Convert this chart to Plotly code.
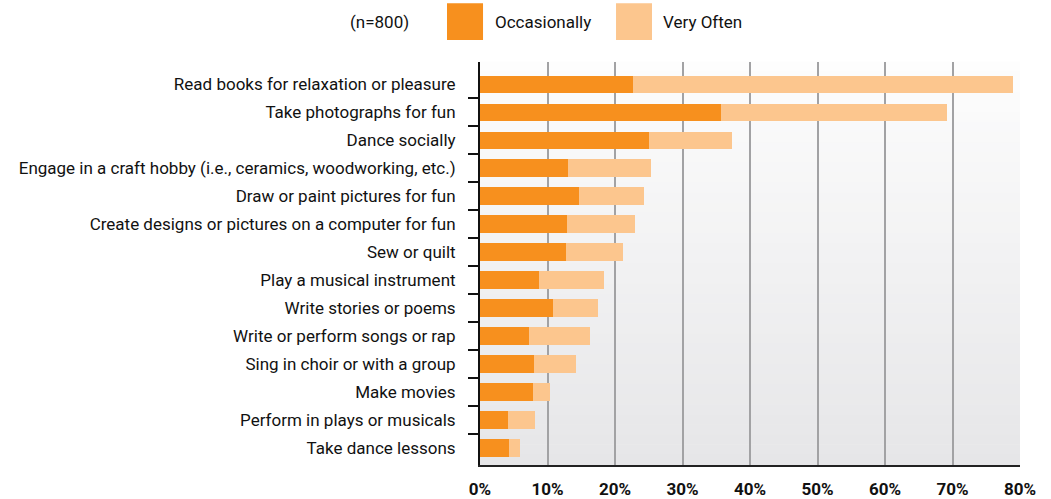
import plotly.graph_objects as go

categories = [
    "Read books for relaxation or pleasure",
    "Take photographs for fun",
    "Dance socially",
    "Engage in a craft hobby (i.e., ceramics, woodworking, etc.)",
    "Draw or paint pictures for fun",
    "Create designs or pictures on a computer for fun",
    "Sew or quilt",
    "Play a musical instrument",
    "Write stories or poems",
    "Write or perform songs or rap",
    "Sing in choir or with a group",
    "Make movies",
    "Perform in plays or musicals",
    "Take dance lessons",
]
occasionally = [22.6, 35.7, 25.0, 13.0, 14.6, 12.9, 12.8, 8.7, 10.8, 7.2, 8.0, 7.8, 4.1, 4.3]
very_often = [56.4, 33.5, 12.3, 12.3, 9.7, 10.1, 8.4, 9.7, 6.7, 9.1, 6.2, 2.6, 4.0, 1.6]
series_names = ["Occasionally", "Very Often"]
series_colors = ["#F7901E", "#FCC68E"]
x_ticks = [0, 10, 20, 30, 40, 50, 60, 70, 80]
sample_note = "(n=800)"

FONT = "Roboto, Liberation Sans, sans-serif"

def f(size, bold=False):
    d = dict(family=FONT, size=size, color="#111111")
    if bold:
        d["weight"] = "bold"
    return d

fig = go.Figure()
for name, vals, col in zip(series_names, [occasionally, very_often], series_colors):
    fig.add_trace(go.Bar(y=categories, x=vals, name=name, orientation="h",
                         marker=dict(color=col, line=dict(width=0)), yaxis="y"))

n = len(categories)
yr = [n - 1 + 0.61, -0.8]

# boundary ticks on an overlay axis
fig.add_trace(go.Scatter(x=[None], y=[None], yaxis="y2", showlegend=False, hoverinfo="skip"))

fig.update_layout(
    width=1051, height=499,
    margin=dict(l=480, r=31, t=62, b=34),
    barmode="stack", bargap=0.37,
    paper_bgcolor="white", plot_bgcolor="#f2f2f2",
    showlegend=False,
    font=f(17),
    xaxis=dict(range=[0, 80], tickvals=x_ticks, ticktext=[f"{v}%" for v in x_ticks],
               showgrid=True, gridcolor="#a2a2a4", gridwidth=2, zeroline=False,
               showline=True, linecolor="#222222", linewidth=2, ticks="",
               tickfont=f(17, True), automargin=False,
               ticklabelstandoff=8, fixedrange=True),
    yaxis=dict(range=yr, type="category", showgrid=False, zeroline=False,
               showline=True, linecolor="#111111", linewidth=2, ticks="",
               automargin=False, ticklabelstandoff=19, tickfont=f(17)),
    yaxis2=dict(range=yr, overlaying="y", anchor="x", side="left", automargin=False,
                tickvals=[i + 0.5 for i in range(n - 1)], ticktext=[""] * (n - 1),
                ticks="outside", ticklen=11, tickwidth=2, tickcolor="#111111",
                showgrid=False, zeroline=False, showline=False, showticklabels=True),
)

# vertical gradient background
steps = 40
shapes = []
for i in range(steps):
    t = i / (steps - 1)
    top = (253, 253, 253)
    bot = (230, 230, 232)
    c = tuple(round(top[k] + (bot[k] - top[k]) * t) for k in range(3))
    shapes.append(dict(type="rect", xref="paper", yref="paper", x0=0, x1=1,
                       y0=1 - (i + 1) / steps, y1=1 - i / steps + 0.001,
                       fillcolor=f"rgb{c}", line=dict(width=0), layer="below"))

# legend swatches
sw = [(-0.0611, 0.0056), (0.2519, 0.3185)]
for (x0, x1), col in zip(sw, series_colors):
    shapes.append(dict(type="rect", xref="paper", yref="paper", x0=x0, x1=x1,
                       y0=1.0546, y1=1.146, fillcolor=col, line=dict(width=0)))
fig.update_layout(shapes=shapes)

ann = [
    dict(text=sample_note, x=-0.1278, xanchor="right"),
    dict(text=series_names[0], x=0.0241, xanchor="left"),
    dict(text=series_names[1], x=0.335, xanchor="left"),
]
for a in ann:
    fig.add_annotation(xref="paper", yref="paper", y=1.099, yanchor="middle",
                       showarrow=False, font=f(17), **a)

fig.write_html("out.html", config={"displayModeBar": False},
               post_script="document.body.style.margin='0';document.body.style.overflow='hidden';")
